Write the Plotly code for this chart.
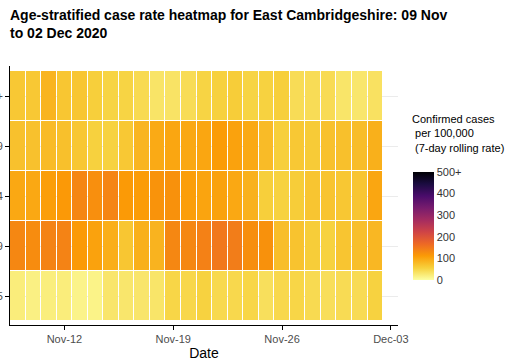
import plotly.graph_objects as go
import pandas as pd

# dates shown on the x axis (one tile per day)
dates = pd.date_range("2020-11-09", "2020-12-02", freq="D").strftime("%Y-%m-%d").tolist()

# age bands, bottom to top
age_bands = ["0-15", "16-29", "30-44", "45-59", "60+"]

# 7-day rolling case rate per 100,000, one list per age band
rate_0_15 = [22, 18, 21, 22, 14, 15, 31, 30, 31, 32, 50, 48,
             54, 46, 47, 50, 39, 47, 50, 45, 40, 43, 43, 54]
rate_16_29 = [133, 128, 138, 138, 112, 104, 92, 67, 90, 86, 133, 133,
              140, 150, 145, 126, 122, 75, 70, 60, 54, 68, 74, 82]
rate_30_44 = [98, 98, 108, 113, 135, 125, 136, 112, 110, 120, 122, 108,
              102, 104, 98, 88, 58, 54, 60, 68, 69, 66, 68, 100]
rate_45_59 = [72, 72, 78, 73, 66, 55, 54, 65, 84, 96, 100, 98,
              100, 110, 104, 97, 78, 58, 65, 62, 72, 73, 76, 90]
rate_60_plus = [65, 65, 85, 67, 67, 58, 52, 52, 45, 33, 34, 42,
                52, 55, 60, 52, 54, 58, 42, 42, 43, 32, 30, 36]

z = [rate_0_15, rate_16_29, rate_30_44, rate_45_59, rate_60_plus]

# colour bar ticks
cbar_vals = [0, 100, 200, 300, 400, 500]
cbar_text = ["0", "100", "200", "300", "400", "500+"]

W, H = 508, 361
L, R, T, B = 10, 110, 66, 36
pw, ph = W - L - R, H - T - B
font = "Liberation Sans, Arial, sans-serif"


def px_x(x):
    return (x - L) / pw


def px_y(y):
    return (H - B - y) / ph


fig = go.Figure()
fig.add_trace(go.Heatmap(
    x=dates, y=age_bands, z=z,
    colorscale="Inferno_r", zmin=0, zmax=500,
    xgap=1, ygap=1,
    colorbar=dict(
        x=px_x(413), xanchor="left",
        y=px_y(280), yanchor="bottom",
        thickness=21, thicknessmode="pixels",
        len=108, lenmode="pixels",
        xpad=0, ypad=0, outlinewidth=0,
        tickvals=cbar_vals, ticktext=cbar_text,
        ticks="", ticklabelposition="outside",
        tickfont=dict(family=font, size=11, color="#333333"),
    ),
))

fig.add_annotation(
    xref="paper", yref="paper",
    x=px_x(410), y=px_y(111),
    xanchor="left", yanchor="top", align="left", showarrow=False,
    text="Confirmed cases<br> per 100,000<br> (7-day rolling rate)",
    font=dict(family=font, size=11, color="black"),
)

# title as an annotation so both lines sit where the reference has them
fig.add_annotation(
    xref="paper", yref="paper",
    x=px_x(8), y=px_y(5),
    xanchor="left", yanchor="top", align="left", showarrow=False,
    text="<b>Age-stratified case rate heatmap for East Cambridgeshire: 09 Nov<br>to 02 Dec 2020</b>",
    font=dict(family=font, size=14, color="black"),
)

fig.update_layout(
    width=W, height=H,
    margin=dict(l=L, r=R, t=T, b=B),
    paper_bgcolor="white", plot_bgcolor="white",
    font=dict(family=font),
)

fig.update_xaxes(
    range=["2020-11-08 12:00", "2020-12-03 11:00"],
    tickvals=["2020-11-12", "2020-11-19", "2020-11-26", "2020-12-03"],
    tickformat="%b-%d",
    ticks="outside", ticklen=4, tickcolor="black",
    showline=True, linecolor="black", linewidth=1,
    showgrid=False, zeroline=False,
    automargin=False,
    tickfont=dict(family=font, size=11, color="#4d4d4d"),
    title=dict(text="Date", font=dict(family=font, size=14, color="black"), standoff=9),
)
fig.update_yaxes(
    range=[-0.58, 4.6],
    ticks="outside", ticklen=4, tickcolor="black",
    showline=True, linecolor="black", linewidth=1,
    showgrid=True, gridcolor="#ebebeb",
    automargin=False,
    tickfont=dict(family=font, size=11, color="#4d4d4d"),
)

# drop the browser's default body margin so the figure fills the window exactly
fig.write_html("out.html", config={"displayModeBar": False},
               post_script="document.body.style.margin = '0';")
